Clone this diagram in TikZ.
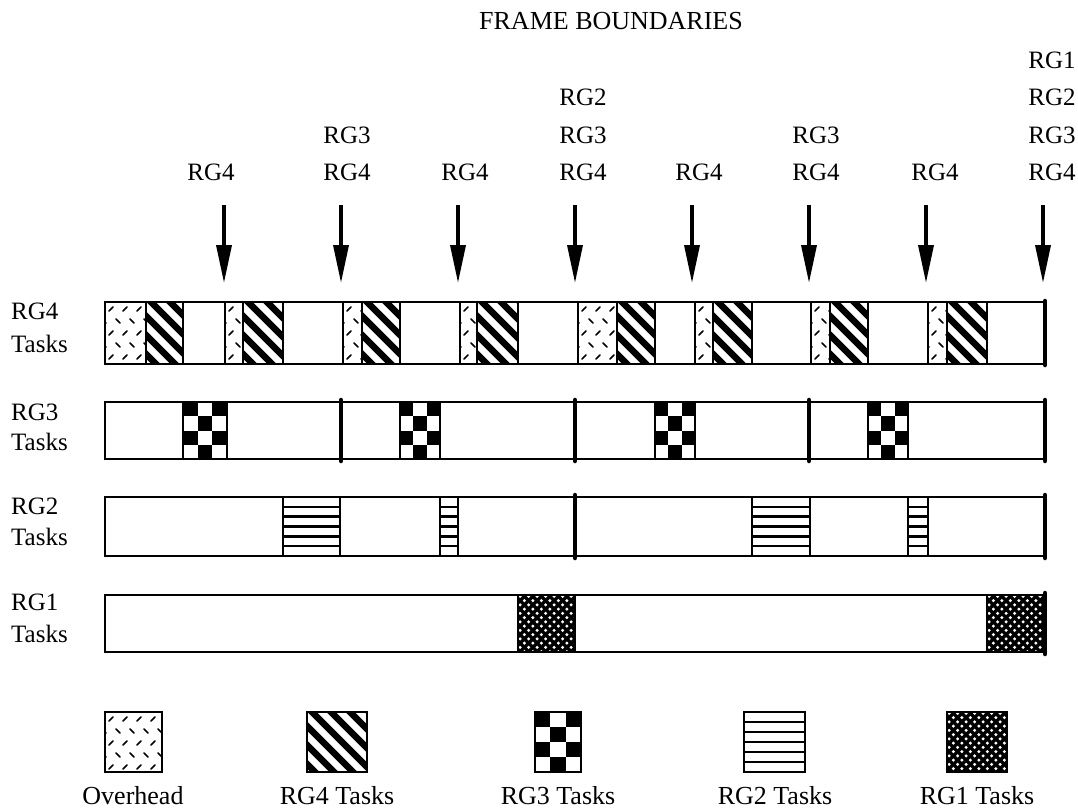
\documentclass[tikz,border=0pt]{standalone}
\usepackage{fontspec}
\setmainfont{Liberation Serif}
\usetikzlibrary{arrows.meta}
\tikzset{
  lbl/.style={font=\fontsize{25}{29}\selectfont, inner sep=0pt, anchor=base},
  biglbl/.style={font=\fontsize{26}{30}\selectfont, inner sep=0pt, anchor=base},
  rowlbl/.style={font=\fontsize{25}{29}\selectfont, inner sep=0pt, anchor=base west},
  barbox/.style={draw=black, line width=2.5pt},
  blk/.style={draw=black, line width=2.5pt},
  framel/.style={line width=4.5pt, line cap=round},
  farrow/.style={line width=3.5pt, -{Triangle[length=38pt,width=15pt]}},
}
% overhead block
\newcommand\OHblk[4]{%
  \begin{scope}
    \clip (#1,#2) rectangle (#3,#4);
    \begin{scope}[shift={(#1,#2)}]
      \foreach \r in {0,...,5}{\foreach \c in {-1,...,4}{%
        \ifodd\r
          \draw[line width=1.6pt, line cap=round] ({\c*14+7+4},{\r*12+5}) -- ++(4,4);
        \else
          \draw[line width=1.6pt, line cap=round] ({\c*14+4},{\r*12+9}) -- ++(4,-4);
        \fi}}
    \end{scope}
  \end{scope}
  \draw[blk] (#1,#2) rectangle (#3,#4);}
% RG4 hatch block
\newcommand\HTblk[4]{%
  \begin{scope}
    \clip (#1,#2) rectangle (#3,#4);
    \begin{scope}[shift={(#1,#2)}]
      \foreach \k in {-5,...,5}{\draw[line width=6.5pt] ({\k*19},-5) -- ++(75,75);}
    \end{scope}
  \end{scope}
  \draw[blk] (#1,#2) rectangle (#3,#4);}
% RG3 checker block
\newcommand\CKblk[4]{%
  \pgfmathsetmacro\cw{(#3-#1)/3}\pgfmathsetmacro\ch{(#4-#2)/4}%
  \foreach \i/\j in {0/0,2/0,1/1,0/2,2/2,1/3}{\fill ({#1+\i*\cw},{#2+\j*\ch}) rectangle ++(\cw,\ch);}
  \draw[blk] (#1,#2) rectangle (#3,#4);}
% RG2 stripe block
\newcommand\STblk[4]{%
  \pgfmathsetmacro\sh{(#4-#2)/6}%
  \foreach \k in {1,...,5}{\draw[line width=2.5pt] (#1,{#2+\k*\sh}) -- (#3,{#2+\k*\sh});}
  \draw[blk] (#1,#2) rectangle (#3,#4);}
% RG1 crosshatch block
\newcommand\XHblk[4]{%
  \begin{scope}
    \clip (#1,#2) rectangle (#3,#4);
    \begin{scope}[shift={(#1,#2)}]
      \foreach \k in {-10,...,17}{%
        \draw[line width=3.4pt] ({\k*8.5},-5) -- ++(80,80);
        \draw[line width=3.4pt] ({\k*8.5+4.25},-5) -- ++(-80,80);}
    \end{scope}
  \end{scope}
  \draw[blk] (#1,#2) rectangle (#3,#4);}

\begin{document}
\begin{tikzpicture}[x=1pt,y=-1pt]
\useasboundingbox[fill=white] (0,0) rectangle (1078,809);

% title
\node[biglbl] (title) at (611,29) {FRAME BOUNDARIES};

% arrows and labels
\foreach \n/\x/\lx in {1/224/211,2/341/347,3/458/465,4/575/583,5/692/699,6/809/816,7/926/935,8/1043/1052}{
  \coordinate (a\n top) at (\x,205);
  \coordinate (a\n tip) at (\x,283);
  \draw[farrow] (a\n top) -- (a\n tip);
  \node[lbl] (l\n-4) at (\lx,180) {RG4};
}
\foreach \n/\lx in {2/347,4/583,6/816,8/1052}{\node[lbl] (l\n-3) at (\lx,143) {RG3};}
\foreach \n/\lx in {4/583,8/1052}{\node[lbl] (l\n-2) at (\lx,105) {RG2};}
\node[lbl] (l8-1) at (1052,68) {RG1};

% row labels
\node[rowlbl] (r4a) at (11,319) {RG4};
\node[rowlbl] (r4b) at (11,352) {Tasks};
\node[rowlbl] (r3a) at (11,420) {RG3};
\node[rowlbl] (r3b) at (11,450) {Tasks};
\node[rowlbl] (r2a) at (11,514) {RG2};
\node[rowlbl] (r2b) at (11,545) {Tasks};
\node[rowlbl] (r1a) at (11,610) {RG1};
\node[rowlbl] (r1b) at (11,642) {Tasks};

% RG4 bar
\OHblk{105}{302}{146}{364}\HTblk{146}{302}{183}{364}
\OHblk{225}{302}{243}{364}\HTblk{243}{302}{283}{364}
\OHblk{343}{302}{362}{364}\HTblk{362}{302}{400}{364}
\OHblk{460}{302}{477}{364}\HTblk{477}{302}{518}{364}
\OHblk{578}{302}{617}{364}\HTblk{617}{302}{655}{364}
\OHblk{695}{302}{713}{364}\HTblk{713}{302}{752}{364}
\OHblk{811}{302}{830}{364}\HTblk{830}{302}{868}{364}
\OHblk{928}{302}{947}{364}\HTblk{947}{302}{987}{364}
\draw[barbox] (105,302) rectangle (1045,364);
\draw[framel] (1045,301) -- (1045,365);

% RG3 bar
\CKblk{183}{402}{227}{459}
\CKblk{400}{402}{440}{459}
\CKblk{655}{402}{695}{459}
\CKblk{868}{402}{908}{459}
\draw[barbox] (105,402) rectangle (1045,459);
\foreach \x in {341,575,809,1045}{\draw[framel] (\x,400) -- (\x,461);}

% RG2 bar
\STblk{283}{497}{340}{556}
\STblk{440}{497}{458}{556}
\STblk{752}{497}{810}{556}
\STblk{908}{497}{928}{556}
\draw[barbox] (105,497) rectangle (1045,556);
\foreach \x in {575,1045}{\draw[framel] (\x,495) -- (\x,558);}

% RG1 bar
\XHblk{518}{595}{575}{652}
\XHblk{987}{595}{1043}{652}
\draw[barbox] (105,595) rectangle (1045,652);
\draw[framel] (1045,593) -- (1045,654);

% legend
\OHblk{105}{712}{162}{772}
\HTblk{307}{712}{367}{772}
\CKblk{535}{712}{581}{772}
\STblk{744}{712}{805}{772}
\XHblk{947}{712}{1007}{772}
\node[biglbl] (g0) at (133,804) {Overhead};
\node[biglbl] (g4) at (337,804) {RG4 Tasks};
\node[biglbl] (g3) at (558,804) {RG3 Tasks};
\node[biglbl] (g2) at (775,804) {RG2 Tasks};
\node[biglbl] (g1) at (977,804) {RG1 Tasks};
\end{tikzpicture}
\end{document}
